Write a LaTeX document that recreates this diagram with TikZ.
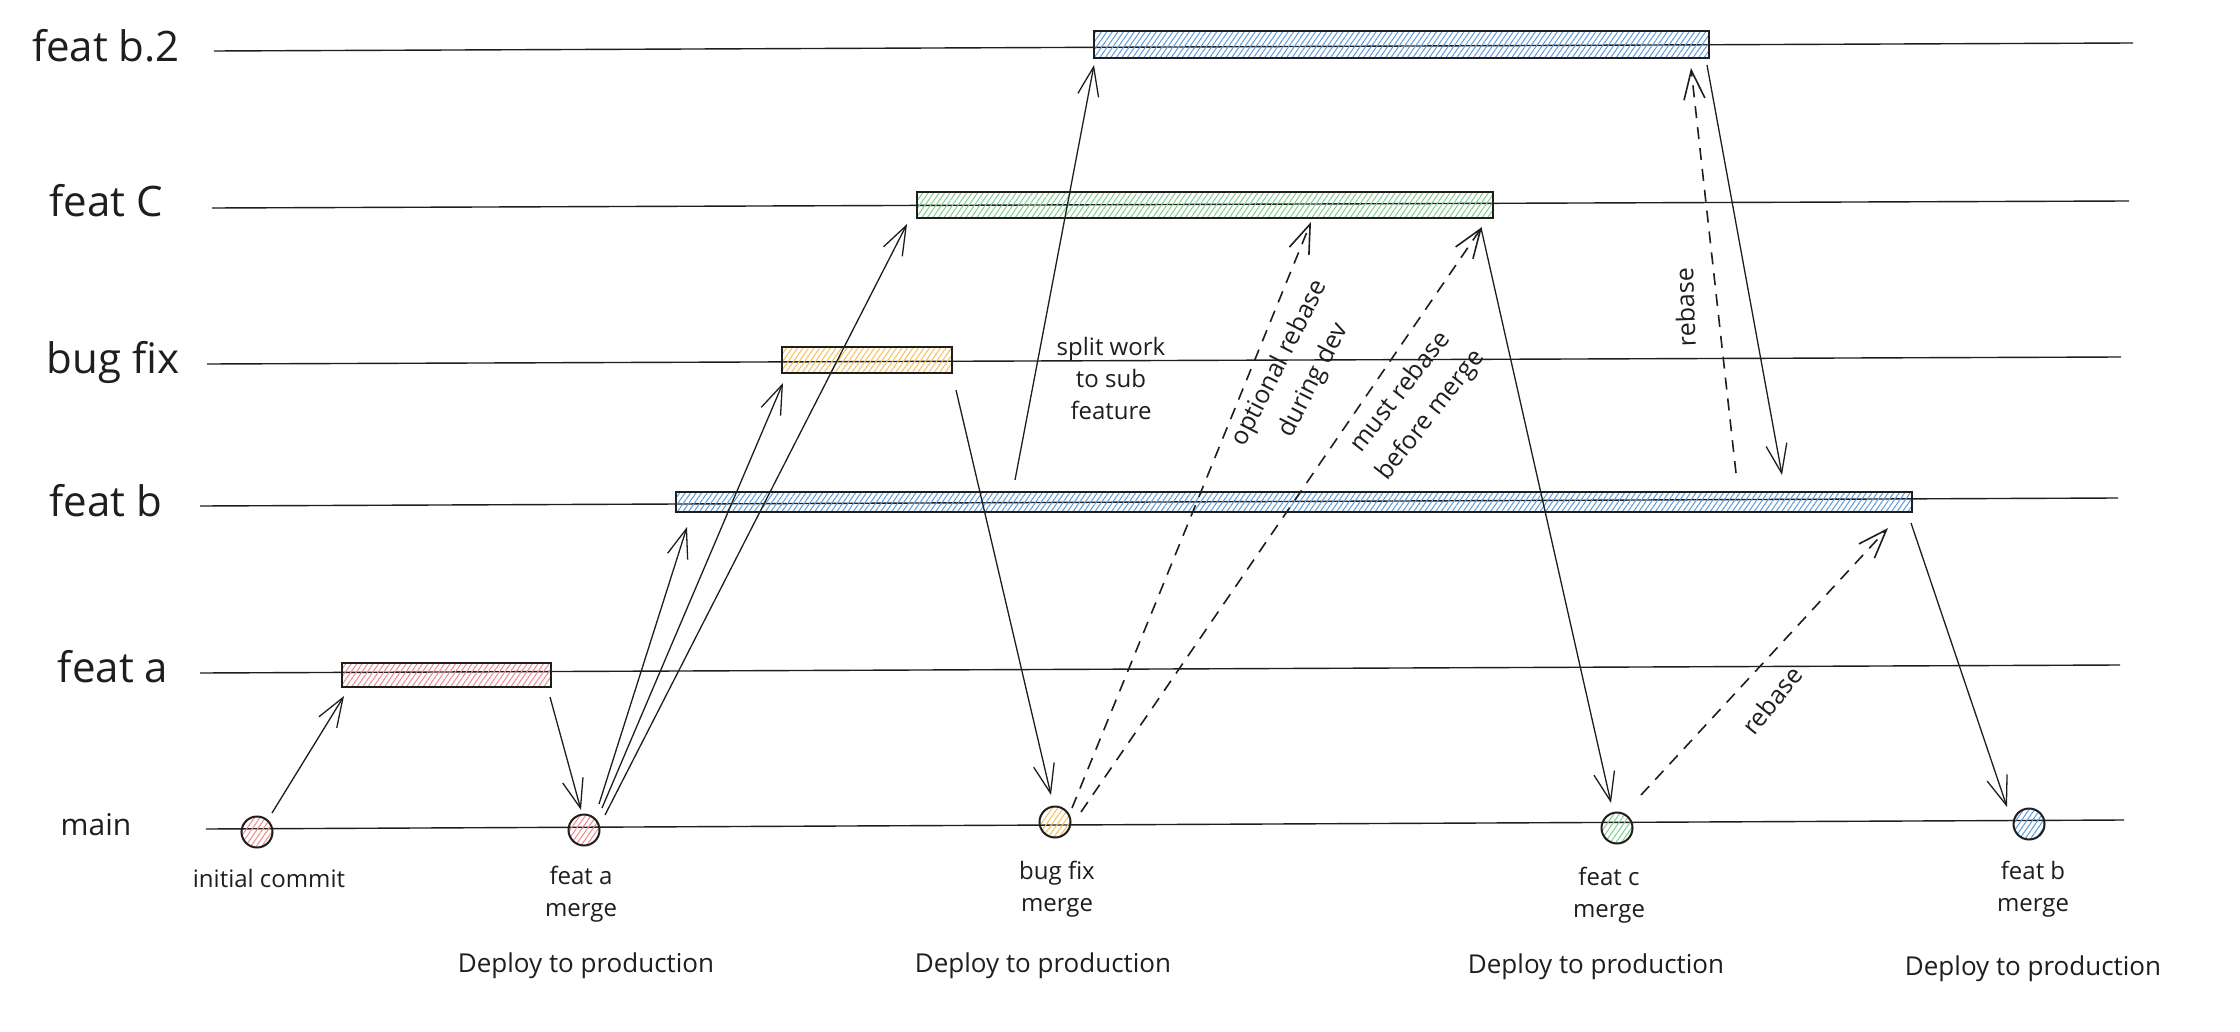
\documentclass[tikz,border=0pt]{standalone}
\usepackage{fontspec}
\setmainfont{Open Sans}
\usetikzlibrary{arrows.meta,patterns.meta}
\definecolor{ink}{HTML}{1E1E1E}
\definecolor{hred}{HTML}{F08A8A}
\definecolor{hyel}{HTML}{F5BF5A}
\definecolor{hgrn}{HTML}{7FCF8C}
\definecolor{hblu}{HTML}{5C9BDB}
\begin{document}
\begin{tikzpicture}[x=1pt,y=-1pt,
  lane/.style={draw=ink, line width=1.4pt},
  lanelabel/.style={text=ink, font=\fontsize{42}{50}\selectfont, anchor=base, inner sep=0pt},
  bar/.style={draw=ink, line width=1.8pt, inner sep=0pt, outer sep=0pt,
    pattern={Lines[angle=55,distance=4.5pt,line width=1pt]}, pattern color=#1},
  commit/.style={circle, draw=ink, line width=2pt, minimum size=31pt, inner sep=0pt,
    pattern={Lines[angle=55,distance=4.5pt,line width=1pt]}, pattern color=#1},
  lbl/.style={text=ink, font=\fontsize{24}{32}\selectfont, align=center, inner sep=0pt},
  rlbl/.style={lbl, font=\fontsize{25}{38}\selectfont},
  deploy/.style={text=ink, font=\fontsize{26}{30}\selectfont, inner sep=0pt},
  flow/.style={draw=ink, line width=1.3pt, -{Straight Barb[length=29pt,width=21pt]}},
  rebase/.style={flow, line width=1.6pt, dash pattern=on 12pt off 9pt},
]
\useasboundingbox (0,0) rectangle (2240,1032);
\fill[white] (0,0) rectangle (2240,1032);

% lane labels
\node[lanelabel] (lbB2) at (106,62) {feat b.2};
\node[lanelabel] (lbC) at (106,217) {feat C};
\node[lanelabel] (lbBug) at (113,373) {bug fix};
\node[lanelabel] (lbB) at (106,516) {feat b};
\node[lanelabel] (lbA) at (113,682) {feat a};
\node[lanelabel, font=\fontsize{30}{36}\selectfont] (lbMain) at (96,835) {main};

% lane lines
\coordinate (lB2s) at (214,51);  \coordinate (lB2e) at (2133,43);
\coordinate (lCs) at (212,208);  \coordinate (lCe) at (2129,201);
\coordinate (lBugs) at (207,364); \coordinate (lBuge) at (2121,357);
\coordinate (lBs) at (200,506);  \coordinate (lBe) at (2118,498);
\coordinate (lAs) at (200,673);  \coordinate (lAe) at (2120,665);
\coordinate (lMs) at (206,829);  \coordinate (lMe) at (2124,820);
\draw[lane] (lB2s) -- (lB2e);
\draw[lane] (lCs) -- (lCe);
\draw[lane] (lBugs) -- (lBuge);
\draw[lane] (lBs) -- (lBe);
\draw[lane] (lAs) -- (lAe);
\draw[lane] (lMs) -- (lMe);

% branch bars
\node[bar=hblu, minimum width=615pt, minimum height=27pt] (barB2) at (1401.5,44.5) {};
\node[bar=hgrn, minimum width=576pt, minimum height=26pt] (barC) at (1205,205) {};
\node[bar=hyel, minimum width=170pt, minimum height=26pt] (barBug) at (867,360) {};
\node[bar=hblu, minimum width=1236pt, minimum height=20pt] (barB) at (1294,502) {};
\node[bar=hred, minimum width=209pt, minimum height=24pt] (barA) at (446.5,675) {};

% commits on main
\node[commit=hred] (cInit) at (257,832) {};
\node[commit=hred] (cA) at (584,830) {};
\node[commit=hyel] (cBug) at (1055,822) {};
\node[commit=hgrn] (cC) at (1617,828) {};
\node[commit=hblu] (cB) at (2029,824) {};

% commit labels
\node[lbl] (tInit) at (269,878) {initial commit};
\node[lbl] (tA) at (581,894) {feat a\\merge};
\node[lbl] (tBug) at (1057,889) {bug fix\\merge};
\node[lbl] (tC) at (1609,895) {feat c\\merge};
\node[lbl] (tB) at (2033,889) {feat b\\merge};
\node[deploy] (dA) at (586,966) {Deploy to production};
\node[deploy] (dBug) at (1043,966) {Deploy to production};
\node[deploy] (dC) at (1596,967) {Deploy to production};
\node[deploy] (dB) at (2033,969) {Deploy to production};

% annotations
\node[lbl] (tSplit) at (1111,378) {split work\\to sub\\feature};
\node[rlbl, rotate=63] (tOpt) at (1297,372) {optional rebase\\during dev};
\node[rlbl, rotate=52] (tMust) at (1416,404) {must rebase\\before merge};
\node[rlbl, rotate=92] (tReb1) at (1685,307) {rebase};
\node[rlbl, rotate=51] (tReb2) at (1772,700) {rebase};

% connector end points
\coordinate (a1s) at (272,813);  \coordinate (a1e) at (344,696);
\coordinate (a2s) at (550,697);  \coordinate (a2e) at (581,810);
\coordinate (a3s) at (599,804);  \coordinate (a3e) at (687,527);
\coordinate (a4s) at (602,808);  \coordinate (a4e) at (783,383);
\coordinate (a5s) at (605,815);  \coordinate (a5e) at (907,224);
\coordinate (a6s) at (956,390);  \coordinate (a6e) at (1051,795);
\coordinate (a7s) at (1015,480); \coordinate (a7e) at (1094,65);
\coordinate (a8s) at (1481,228); \coordinate (a8e) at (1611,803);
\coordinate (a9s) at (1707,65);  \coordinate (a9e) at (1782,475);
\coordinate (a10s) at (1911,523); \coordinate (a10e) at (2007,807);
\coordinate (d1s) at (1072,808); \coordinate (d1e) at (1311,222);
\coordinate (d2s) at (1081,812); \coordinate (d2e) at (1482,227);
\coordinate (d3s) at (1736,473); \coordinate (d3e) at (1691,68);
\coordinate (d4s) at (1641,795); \coordinate (d4e) at (1888,528);

\draw[flow] (a1s) -- (a1e);
\draw[flow] (a2s) -- (a2e);
\draw[flow] (a3s) -- (a3e);
\draw[flow] (a4s) -- (a4e);
\draw[flow] (a5s) -- (a5e);
\draw[flow] (a6s) -- (a6e);
\draw[flow] (a7s) -- (a7e);
\draw[flow] (a8s) -- (a8e);
\draw[flow] (a9s) -- (a9e);
\draw[flow] (a10s) -- (a10e);
\draw[rebase] (d1s) -- (d1e);
\draw[rebase] (d2s) -- (d2e);
\draw[rebase] (d3s) -- (d3e);
\draw[rebase] (d4s) -- (d4e);
\end{tikzpicture}
\end{document}
